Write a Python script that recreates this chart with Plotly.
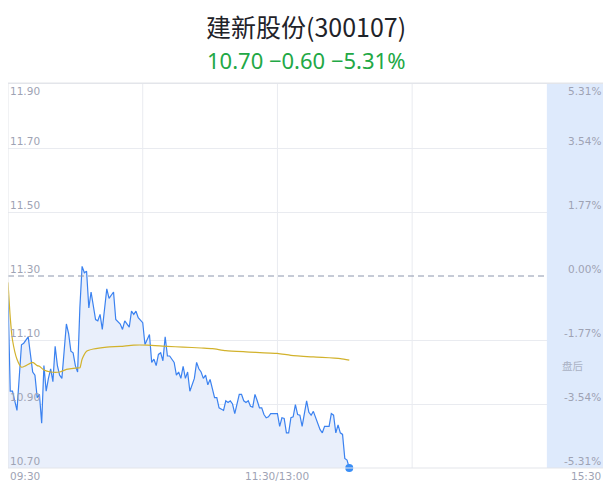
import plotly.graph_objects as go

# ---- data ----
title_text = "建新股份(300107)"
quote_text = "10.70 \u22120.60 \u22125.31%"

price_minutes = [0, 1, 2, 3, 4, 6, 7, 9, 11, 12, 13, 14, 15, 16, 17, 18, 19, 20, 21, 22,
                 23, 24, 25, 26, 27, 28, 29, 30, 31, 32, 33, 34, 35, 36, 37, 39, 40, 41, 42, 44,
                 45, 46, 47, 48, 50, 51, 52, 54, 55, 56, 57, 58, 60, 61, 63, 64, 65, 66, 67, 68,
                 69, 70, 71, 72, 74, 75, 76, 77, 78, 79, 80, 81, 83, 84, 85, 86, 87, 88, 89, 90,
                 91, 92, 93, 94, 96, 97, 98, 99, 100, 101, 103, 104, 105, 106, 107, 108, 109, 110, 111, 112,
                 113, 114, 115, 116, 117, 119, 120, 121, 122, 123, 124, 125, 126, 127, 128, 129, 130, 131, 132, 133,
                 134, 135, 136, 137, 139, 140, 141, 143, 144, 145, 146, 147, 148, 149, 150, 151, 152]
prices = [11.24, 10.94, 10.94, 10.91, 10.88, 11.085, 11.09, 11.11, 11.00, 10.99, 10.92, 10.93, 10.84, 11.02, 10.94, 10.98, 11.01, 10.97, 11.08, 11.02,
          10.99, 10.98, 11.07, 11.15, 11.12, 11.065, 11.06, 11.02, 11.00, 11.20, 11.33, 11.31, 11.315, 11.20, 11.25, 11.164, 11.16, 11.18, 11.133, 11.26,
          11.23, 11.24, 11.25, 11.164, 11.15, 11.133, 11.16, 11.14, 11.19, 11.18, 11.19, 11.17, 11.154, 11.086, 11.117, 11.03, 11.04, 11.02, 11.055, 11.06,
          11.035, 11.11, 11.05, 11.05, 11.03, 10.99, 11.00, 10.98, 11.018, 10.98, 11.00, 10.94, 10.98, 11.03, 11.01, 11.00, 10.98, 10.99, 10.96, 10.977,
          10.95, 10.92, 10.92, 10.888, 10.88, 10.91, 10.905, 10.91, 10.90, 10.87, 10.93, 10.93, 10.91, 10.905, 10.91, 10.893, 10.89, 10.93, 10.91, 10.888,
          10.888, 10.867, 10.857, 10.86, 10.87, 10.87, 10.87, 10.83, 10.857, 10.855, 10.81, 10.81, 10.857, 10.86, 10.898, 10.867, 10.865, 10.83, 10.87, 10.91,
          10.874, 10.865, 10.877, 10.857, 10.82, 10.81, 10.83, 10.83, 10.87, 10.865, 10.81, 10.835, 10.81, 10.805, 10.73, 10.725, 10.70]

avg_minutes = [0, 1, 2, 4, 6, 8, 11, 13, 14, 16, 19, 23, 26, 31, 32, 33, 35, 38, 44, 50,
               56, 62, 71, 78, 86, 91, 97, 106, 120, 126, 136, 148, 152]
avg_prices = [11.28, 11.17, 11.10, 11.04, 11.015, 11.02, 11.03, 11.02, 11.018, 11.006, 11.0, 11.0, 11.008, 11.013, 11.013, 11.04, 11.065, 11.072, 11.078, 11.08,
              11.084, 11.084, 11.08, 11.078, 11.075, 11.073, 11.067, 11.063, 11.058, 11.052, 11.047, 11.042, 11.037]

prev_close = 11.30
price_ticks = [11.90, 11.70, 11.50, 11.30, 11.10, 10.90, 10.70]
price_labels = ["11.90", "11.70", "11.50", "11.30", "11.10", "10.90", "10.70"]
pct_labels = ["5.31%", "3.54%", "1.77%", "0.00%", "-1.77%", "-3.54%", "-5.31%"]
time_ticks = [0, 120, 265]
time_labels = ["09:30", "11:30/13:00", "15:30"]
grid_minutes = [60, 120, 180]
session_end = 240
after_end = 265
after_label = "盘后"

# ---- styles ----
GRID = "#e9ebf0"
LABEL = "#9ea3b4"
BLUE = "#3b82f0"
FILL = "#e9effb"
YELLOW = "#d2b22c"
AFTER = "#deeafc"
AXFONT = "DejaVu Sans"
AXSIZE = 10.5

fig = go.Figure()
fig.add_trace(go.Scatter(x=price_minutes, y=prices, mode="lines",
                         line=dict(color=BLUE, width=1.2), fill="tozeroy",
                         fillcolor=FILL, hoverinfo="skip", showlegend=False))
fig.add_trace(go.Scatter(x=avg_minutes, y=avg_prices, mode="lines",
                         line=dict(color=YELLOW, width=1.2, shape="spline", smoothing=0.6),
                         hoverinfo="skip", showlegend=False))
fig.add_trace(go.Scatter(x=[price_minutes[-1]], y=[prices[-1]], mode="markers",
                         marker=dict(color="#3a8ef6", size=8), cliponaxis=False,
                         hoverinfo="skip", showlegend=False))

shapes = []
for m in grid_minutes:
    shapes.append(dict(type="line", xref="x", yref="paper", x0=m, x1=m, y0=0, y1=1,
                       line=dict(color=GRID, width=1), layer="below"))
# after-hours band
shapes.append(dict(type="rect", xref="x", yref="paper", x0=session_end, x1=after_end, y0=0, y1=1,
                   fillcolor=AFTER, line=dict(width=0), layer="above"))
# prev close dashed
shapes.append(dict(type="line", xref="paper", yref="y", x0=0, x1=session_end / after_end,
                   y0=prev_close, y1=prev_close, line=dict(color="#8c96ad", width=1, dash="6px,4px"),
                   layer="above"))
# borders
shapes.append(dict(type="line", xref="paper", yref="paper", x0=0, x1=1.02, y0=1.002, y1=1.002,
                   line=dict(color="#e3e5ea", width=1.5)))
shapes.append(dict(type="line", xref="paper", yref="paper", x0=0, x1=0, y0=0, y1=1,
                   line=dict(color="#e3e5ea", width=1)))
shapes.append(dict(type="line", xref="paper", yref="paper", x0=0, x1=1, y0=0, y1=0,
                   line=dict(color="#e3e5ea", width=1), layer="above"))

# plot area is 384 px tall; paper y for a pixel row r (page coords) = (468 - r) / 384
annotations = []
annotations.append(dict(text=title_text, xref="paper", yref="paper", x=0.5, y=(468 - 26) / 384,
                        xanchor="center", yanchor="middle", showarrow=False,
                        font=dict(family="Noto Sans CJK SC", size=25, color="#1f2329")))
annotations.append(dict(text=quote_text, xref="paper", yref="paper", x=0.5, y=(468 - 60) / 384,
                        xanchor="center", yanchor="middle", showarrow=False,
                        font=dict(family="Noto Sans", size=22, color="#22a845")))
for i, (v, lab, pct) in enumerate(zip(price_ticks, price_labels, pct_labels)):
    top = i == 0
    annotations.append(dict(text=lab, xref="x", yref="y", x=0, y=v, xanchor="left",
                            yanchor="top" if top else "bottom", yshift=1 if top else -1,
                            showarrow=False, font=dict(family=AXFONT, size=AXSIZE, color=LABEL)))
    annotations.append(dict(text=pct, xref="x", yref="y", x=after_end, y=v, xanchor="right",
                            yanchor="top" if top else "bottom", yshift=1 if top else -1,
                            showarrow=False, font=dict(family=AXFONT, size=AXSIZE, color=LABEL)))
anchors = ["left", "center", "right"]
for t, lab, a in zip(time_ticks, time_labels, anchors):
    annotations.append(dict(text=lab, xref="x", yref="paper", x=t, y=(468 - 476) / 384, xanchor=a,
                            yanchor="middle", showarrow=False,
                            font=dict(family=AXFONT, size=AXSIZE, color=LABEL)))
annotations.append(dict(text=after_label, xref="x", yref="y", x=(session_end + after_end) / 2 - 1,
                        y=11.02, xanchor="center", yanchor="middle", showarrow=False,
                        font=dict(family="Noto Sans CJK SC", size=10.5, color="#aab2c4")))

# page body has an 8px margin: figure occupies x 8..603, y 8..484
fig.update_layout(
    width=595, height=476,
    margin=dict(l=0, r=0, t=76, b=16),
    paper_bgcolor="white", plot_bgcolor="white",
    xaxis=dict(range=[0, after_end], showgrid=False, zeroline=False, showticklabels=False,
               ticks="", fixedrange=True),
    yaxis=dict(range=[10.70, 11.90], tickvals=[11.70, 11.50, 11.10, 10.90], showgrid=True,
               gridcolor=GRID, gridwidth=1, zeroline=False, showticklabels=False, ticks="",
               fixedrange=True),
    shapes=shapes, annotations=annotations, showlegend=False,
)

fig.write_html("out.html", config={"displayModeBar": False})
